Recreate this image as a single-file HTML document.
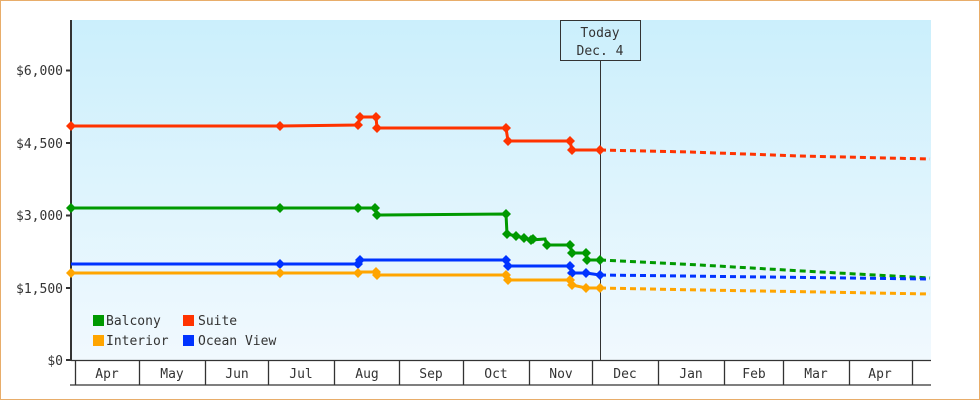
<!DOCTYPE html>
<html><head><meta charset="utf-8"><style>
html,body{margin:0;padding:0;background:#fff}
svg{display:block}
text{font-family:"DejaVu Sans Mono","Liberation Mono",monospace;font-size:13px;fill:#333}
</style></head><body>
<svg width="980" height="400" viewBox="0 0 980 400">
<defs><linearGradient id="bg" x1="0" y1="0" x2="0" y2="1"><stop offset="0" stop-color="#cbeffc"/><stop offset="1" stop-color="#f1f9fe"/></linearGradient></defs>
<rect x="0.5" y="0.5" width="979" height="399" fill="#fff" stroke="#e8ad6a"/>
<rect x="71" y="20" width="860" height="340" fill="url(#bg)"/>
<g stroke="#333" stroke-width="2">
<line x1="71" y1="20" x2="71" y2="361"/>
<line x1="66" y1="70.5" x2="71" y2="70.5"/><line x1="66" y1="143" x2="71" y2="143"/><line x1="66" y1="215.5" x2="71" y2="215.5"/><line x1="66" y1="288" x2="71" y2="288"/><line x1="66" y1="360" x2="71" y2="360"/>
</g>
<g text-anchor="end"><text x="63" y="75">$6,000</text><text x="63" y="148">$4,500</text><text x="63" y="220">$3,000</text><text x="63" y="293">$1,500</text><text x="63" y="365">$0</text></g>
<g stroke="#333" stroke-width="1.3">
<line x1="70" y1="385" x2="931" y2="385"/>
<line x1="71" y1="360.5" x2="931" y2="360.5"/>
<line x1="75.5" y1="360" x2="75.5" y2="385"/><line x1="139.5" y1="360" x2="139.5" y2="385"/><line x1="205.5" y1="360" x2="205.5" y2="385"/><line x1="268.5" y1="360" x2="268.5" y2="385"/><line x1="334.5" y1="360" x2="334.5" y2="385"/><line x1="399.5" y1="360" x2="399.5" y2="385"/><line x1="463.5" y1="360" x2="463.5" y2="385"/><line x1="529.5" y1="360" x2="529.5" y2="385"/><line x1="592.5" y1="360" x2="592.5" y2="385"/><line x1="658.5" y1="360" x2="658.5" y2="385"/><line x1="724.5" y1="360" x2="724.5" y2="385"/><line x1="783.5" y1="360" x2="783.5" y2="385"/><line x1="849.5" y1="360" x2="849.5" y2="385"/><line x1="912.5" y1="360" x2="912.5" y2="385"/>
</g>
<g text-anchor="middle"><text x="107" y="378">Apr</text><text x="172" y="378">May</text><text x="237" y="378">Jun</text><text x="301" y="378">Jul</text><text x="367" y="378">Aug</text><text x="431" y="378">Sep</text><text x="496" y="378">Oct</text><text x="561" y="378">Nov</text><text x="625" y="378">Dec</text><text x="691" y="378">Jan</text><text x="754" y="378">Feb</text><text x="816" y="378">Mar</text><text x="880" y="378">Apr</text></g>
<line x1="600.5" y1="60" x2="600.5" y2="360" stroke="#333" stroke-width="1"/>
<rect x="560.5" y="20.5" width="80" height="40" fill="none" stroke="#333"/>
<text x="600" y="37" text-anchor="middle">Today</text><text x="600" y="55" text-anchor="middle">Dec. 4</text>
<g fill="none" stroke-width="3">
<polyline stroke="#ff3300" points="71,126 280,126 358,125 360,117 376,117 377,128 506,128 508,141 570,141 572,150 600,150"/>
<polyline stroke="#009900" points="71,208 358,208 375,208 377,215 506,214 507,234 516,236 524,238 531,240 545,239 547,245 570,245 572,253 586,253 587,260 600,260"/>
<polyline stroke="#0033ff" points="71,264 358,264 360,260 506,260 508,266 570,266 572,273 586,273 600,275"/>
<polyline stroke="#ffa500" points="71,273 358,273 359,272 376,272 377,275 506,275 508,280 570,280 572,285 586,288 600,288"/>
<g stroke-dasharray="6,4">
<polyline stroke="#ff3300" points="600,150 690,152 800,156 930,159"/>
<polyline stroke="#009900" points="600,260 700,265 820,272 930,278"/>
<polyline stroke="#0033ff" points="600,275 930,279"/>
<polyline stroke="#ffa500" points="600,288 700,290 820,292 930,294"/>
</g></g>
<g>
<g fill="#ff3300"><path d="M71,121l5,5-5,5-5-5z"/><path d="M280,121l5,5-5,5-5-5z"/><path d="M358,120l5,5-5,5-5-5z"/><path d="M360,112l5,5-5,5-5-5z"/><path d="M376,112l5,5-5,5-5-5z"/><path d="M377,123l5,5-5,5-5-5z"/><path d="M506,123l5,5-5,5-5-5z"/><path d="M508,136l5,5-5,5-5-5z"/><path d="M570,136l5,5-5,5-5-5z"/><path d="M572,145l5,5-5,5-5-5z"/><path d="M600,145l5,5-5,5-5-5z"/></g>
<g fill="#009900"><path d="M71,203l5,5-5,5-5-5z"/><path d="M280,203l5,5-5,5-5-5z"/><path d="M358,203l5,5-5,5-5-5z"/><path d="M375,203l5,5-5,5-5-5z"/><path d="M377,210l5,5-5,5-5-5z"/><path d="M506,209l5,5-5,5-5-5z"/><path d="M507,229l5,5-5,5-5-5z"/><path d="M516,231l5,5-5,5-5-5z"/><path d="M524,233l5,5-5,5-5-5z"/><path d="M531,235l5,5-5,5-5-5z"/><path d="M533,234l5,5-5,5-5-5z"/><path d="M547,240l5,5-5,5-5-5z"/><path d="M570,240l5,5-5,5-5-5z"/><path d="M572,248l5,5-5,5-5-5z"/><path d="M586,248l5,5-5,5-5-5z"/><path d="M587,255l5,5-5,5-5-5z"/><path d="M600,255l5,5-5,5-5-5z"/></g>
<g fill="#0033ff"><path d="M280,259l5,5-5,5-5-5z"/><path d="M358,259l5,5-5,5-5-5z"/><path d="M360,255l5,5-5,5-5-5z"/><path d="M506,255l5,5-5,5-5-5z"/><path d="M508,261l5,5-5,5-5-5z"/><path d="M570,261l5,5-5,5-5-5z"/><path d="M572,268l5,5-5,5-5-5z"/><path d="M586,268l5,5-5,5-5-5z"/><path d="M600,270l5,5-5,5-5-5z"/></g>
<g fill="#ffa500"><path d="M71,268l5,5-5,5-5-5z"/><path d="M280,268l5,5-5,5-5-5z"/><path d="M358,268l5,5-5,5-5-5z"/><path d="M376,267l5,5-5,5-5-5z"/><path d="M377,270l5,5-5,5-5-5z"/><path d="M506,270l5,5-5,5-5-5z"/><path d="M508,275l5,5-5,5-5-5z"/><path d="M570,275l5,5-5,5-5-5z"/><path d="M572,280l5,5-5,5-5-5z"/><path d="M586,283l5,5-5,5-5-5z"/><path d="M600,283l5,5-5,5-5-5z"/></g>
</g>
<rect x="93" y="315" width="11" height="11" fill="#009900"/><text x="106" y="325">Balcony</text>
<rect x="183" y="315" width="11" height="11" fill="#ff3300"/><text x="198" y="325">Suite</text>
<rect x="93" y="335" width="11" height="11" fill="#ffa500"/><text x="106" y="345">Interior</text>
<rect x="183" y="335" width="11" height="11" fill="#0033ff"/><text x="198" y="345">Ocean View</text>
</svg>
</body></html>
